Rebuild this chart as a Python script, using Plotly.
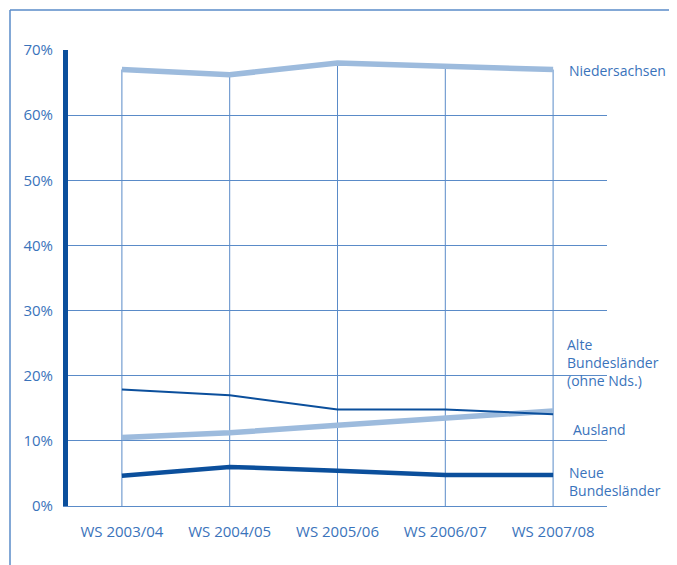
import plotly.graph_objects as go

categories = ["WS 2003/04", "WS 2004/05", "WS 2005/06", "WS 2006/07", "WS 2007/08"]
niedersachsen = [67.0, 66.2, 68.0, 67.4, 67.0]
alte_bl = [17.9, 17.0, 14.8, 14.8, 14.1]
ausland = [10.5, 11.25, 12.4, 13.6, 14.6]
neue_bl = [4.65, 6.0, 5.4, 4.75, 4.75]

y_ticks = [0, 10, 20, 30, 40, 50, 60, 70]
y_ticklabels = ["0%", "10%", "20%", "30%", "40%", "50%", "60%", "70%"]

label_texts = ["Niedersachsen", "Alte<br>Bundesländer<br>(ohne Nds.)", "Ausland", "Neue<br>Bundesländer"]
label_y = [66.9, 22.1, 11.7, 3.8]
label_x = [0.926, 0.922, 0.933, 0.926]

DARK = "#0b4f9c"
LIGHT = "#9dbbdd"
GRID = "#5a8bc8"
TEXT = "#3a73bb"
FONT = "Open Sans"
FS_TICK = 15
FS_LAB = 14

xs = list(range(len(categories)))

fig = go.Figure()

# vertical drop lines from axis to the Niedersachsen value
for i, v in zip(xs, niedersachsen):
    fig.add_trace(go.Scatter(x=[i, i], y=[0, v], mode="lines",
                             line=dict(color=GRID, width=1), hoverinfo="skip",
                             showlegend=False))

fig.add_trace(go.Scatter(x=xs, y=niedersachsen, mode="lines", name="Niedersachsen",
                         line=dict(color=LIGHT, width=5.5)))
fig.add_trace(go.Scatter(x=xs, y=ausland, mode="lines", name="Ausland",
                         line=dict(color=LIGHT, width=5.5)))
fig.add_trace(go.Scatter(x=xs, y=alte_bl, mode="lines", name="Alte Bundesländer (ohne Nds.)",
                         line=dict(color=DARK, width=2)))
fig.add_trace(go.Scatter(x=xs, y=neue_bl, mode="lines", name="Neue Bundesländer",
                         line=dict(color=DARK, width=4.5)))

for t, yv, xv in zip(label_texts, label_y, label_x):
    fig.add_annotation(text=t, x=xv, xref="paper", y=yv, yref="y",
                       xanchor="left", yanchor="middle", showarrow=False, align="left",
                       font=dict(family=FONT, size=FS_LAB, color=TEXT))

# outer frame (left and top edges)
fig.add_shape(type="line", xref="paper", yref="paper", x0=-0.1076, x1=1.3, y0=1.0877, y1=1.0877,
              line=dict(color=GRID, width=1.5))
fig.add_shape(type="line", xref="paper", yref="paper", x0=-0.1076, x1=-0.1076, y0=1.0877, y1=-0.3,
              line=dict(color=GRID, width=1.5))

fig.update_layout(
    width=677, height=565,
    margin=dict(l=60, r=78, t=42, b=67),
    paper_bgcolor="white", plot_bgcolor="white",
    showlegend=False,
    font=dict(family=FONT, size=FS_TICK, color=TEXT),
    xaxis=dict(range=[-0.5, 4.5], tickmode="array", tickvals=xs, ticktext=categories,
               showgrid=False, zeroline=False, showline=True, linecolor=GRID, linewidth=1,
               ticks="", ticklabelstandoff=12, tickfont=dict(family=FONT, size=FS_TICK, color=TEXT),
               fixedrange=True),
    yaxis=dict(range=[0, 70], tickmode="array", tickvals=y_ticks, ticktext=y_ticklabels,
               showgrid=True, gridcolor=GRID, gridwidth=1, zeroline=False,
               showline=True, linecolor=DARK, linewidth=5, ticks="",
               ticklabelstandoff=7, tickfont=dict(family=FONT, size=FS_TICK, color=TEXT),
               fixedrange=True),
)

fig.write_html("out.html")
